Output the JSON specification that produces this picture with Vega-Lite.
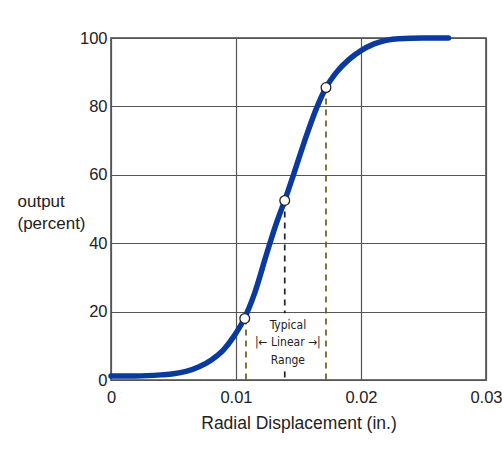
{
  "$schema": "https://vega.github.io/schema/vega-lite/v6.json",
  "width": 375,
  "height": 342,
  "autosize": {"type": "none"},
  "padding": {"left": 111, "top": 38, "right": 16, "bottom": 74},
  "background": "white",
  "config": {
    "view": {"stroke": "#444", "strokeWidth": 1.5},
    "font": "Liberation Sans",
    "axis": {
      "labelFont": "Liberation Sans",
      "labelFontSize": 16.5,
      "labelColor": "#222",
      "titleFont": "Liberation Sans",
      "titleFontSize": 17.5,
      "titleFontWeight": "normal",
      "titleColor": "#222",
      "gridColor": "#555",
      "gridWidth": 1.2,
      "gridOpacity": 1,
      "ticks": false,
      "domain": false
    }
  },
  "datasets": {
    "curve": [
      {"x": 0, "y": 1.2},
      {"x": 0.002, "y": 1.2},
      {"x": 0.004, "y": 1.5},
      {"x": 0.005, "y": 1.8},
      {"x": 0.006, "y": 2.5},
      {"x": 0.007, "y": 3.8},
      {"x": 0.008, "y": 5.8},
      {"x": 0.009, "y": 8.8},
      {"x": 0.0098, "y": 12.6},
      {"x": 0.0106, "y": 17.5},
      {"x": 0.0115, "y": 25.5},
      {"x": 0.0125, "y": 37.5},
      {"x": 0.0132, "y": 45.5},
      {"x": 0.0139, "y": 52.5},
      {"x": 0.0146, "y": 60},
      {"x": 0.0155, "y": 70},
      {"x": 0.0165, "y": 80},
      {"x": 0.0172, "y": 85.5},
      {"x": 0.018, "y": 89.8},
      {"x": 0.019, "y": 93.6},
      {"x": 0.02, "y": 96.3},
      {"x": 0.021, "y": 98.2},
      {"x": 0.022, "y": 99.3},
      {"x": 0.023, "y": 99.8},
      {"x": 0.025, "y": 100},
      {"x": 0.027, "y": 100}
    ],
    "markers": [
      {"x": 0.0107, "y": 18},
      {"x": 0.0139, "y": 52.5},
      {"x": 0.0172, "y": 85.5}
    ],
    "rules": [
      {"x": 0.0108, "top": 18, "bottom": 0, "kind": "edge"},
      {"x": 0.0139, "top": 52.5, "bottom": 19.5, "kind": "center"},
      {"x": 0.0139, "top": 2.5, "bottom": 0, "kind": "center"},
      {"x": 0.0172, "top": 85.5, "bottom": 0, "kind": "edge"}
    ],
    "labels": [
      {"x": 0.01415, "y": 16, "text": "Typical"},
      {"x": 0.01415, "y": 11, "text": "|← Linear →|"},
      {"x": 0.01415, "y": 5.8, "text": "Range"}
    ]
  },
  "layer": [
    {
      "data": {"name": "rules"},
      "mark": {"type": "rule", "strokeWidth": 1.7, "strokeDash": [6, 5]},
      "encoding": {
        "x": {
          "field": "x", "type": "quantitative",
          "scale": {"domain": [0, 0.03], "nice": false},
          "axis": {
            "values": [0, 0.01, 0.02, 0.03],
            "format": "~g",
            "title": "Radial Displacement (in.)",
            "labelPadding": 9,
            "titlePadding": 9,
            "grid": true,
            "labelFlush": false
          }
        },
        "y": {
          "field": "top", "type": "quantitative",
          "scale": {"domain": [0, 100], "nice": false},
          "axis": {
            "values": [0, 20, 40, 60, 80, 100],
            "title": ["output", "(percent)"],
            "titleAngle": 0,
            "titleAlign": "left",
            "titleBaseline": "alphabetic",
            "titleFontSize": 17,
            "titleX": -94,
            "titleY": 168,
            "titleLineHeight": 22,
            "labelPadding": 4,
            "grid": true
          }
        },
        "y2": {"field": "bottom"},
        "color": {
          "field": "kind", "type": "nominal",
          "scale": {"domain": ["edge", "center"], "range": ["#6b5e1a", "#222222"]},
          "legend": null
        }
      }
    },
    {
      "data": {"name": "curve"},
      "mark": {"type": "line", "color": "#0a3a9e", "strokeWidth": 5.5, "interpolate": "monotone", "strokeCap": "round"},
      "encoding": {
        "x": {"field": "x", "type": "quantitative"},
        "y": {"field": "y", "type": "quantitative"}
      }
    },
    {
      "data": {"name": "markers"},
      "mark": {"type": "point", "filled": true, "fill": "white", "stroke": "#222", "strokeWidth": 1.3, "size": 95, "opacity": 1},
      "encoding": {
        "x": {"field": "x", "type": "quantitative"},
        "y": {"field": "y", "type": "quantitative"}
      }
    },
    {
      "data": {"name": "labels"},
      "mark": {"type": "text", "font": "DejaVu Sans Condensed, Liberation Sans", "fontSize": 12, "color": "#222", "align": "center", "baseline": "middle"},
      "encoding": {
        "x": {"field": "x", "type": "quantitative"},
        "y": {"field": "y", "type": "quantitative"},
        "text": {"field": "text"}
      }
    }
  ]
}
